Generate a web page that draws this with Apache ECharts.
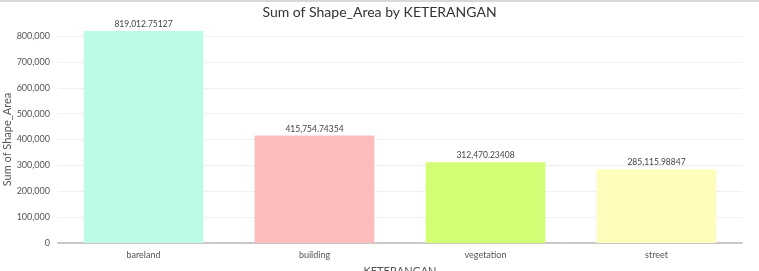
<!DOCTYPE html>
<html>
<head>
<meta charset="utf-8">
<script src="https://cdn.jsdelivr.net/npm/echarts@6/dist/echarts.min.js"></script>
<style>
html, body { margin: 0; padding: 0; background: #fff; }
#chart { width: 759px; height: 271px; border-top: 2px solid #d8d8d8; box-sizing: border-box; }
</style>
</head>
<body>
<div id="chart"></div>
<script>
const categories = ['bareland', 'building', 'vegetation', 'street'];
const values = [819012.75127, 415754.74354, 312470.23408, 285115.98847];
const labels = ['819,012.75127', '415,754.74354', '312,470.23408', '285,115.98847'];
const colors = ['#bcfce6', '#fdbdbd', '#d4fd76', '#fefdbc'];
const yTicks = [0, 100000, 200000, 300000, 400000, 500000, 600000, 700000, 800000];

let chart = echarts.init(document.getElementById('chart'));
let font = 'Lato, "Open Sans", sans-serif';

let option = {
	animation: false,
	title: {
		text: 'Sum of Shape_Area by KETERANGAN',
		left: 'center',
		top: -2,
		textStyle: { fontSize: 14, fontWeight: 'normal', color: '#333', fontFamily: font }
	},
	grid: { left: 58, right: 17, top: 34, bottom: 28, outerBoundsMode: 'none' },
	xAxis: {
		type: 'category',
		data: categories,
		name: 'KETERANGAN',
		nameLocation: 'middle',
		nameGap: 23,
		nameMoveOverlap: false,
		nameTextStyle: { fontSize: 11, color: '#555', fontFamily: font },
		axisLine: { lineStyle: { color: '#c8c8c8', width: 2 } },
		axisTick: { alignWithLabel: true, length: 3, lineStyle: { color: '#c8c8c8' } },
		axisLabel: { fontSize: 9, color: '#555', margin: 8, fontFamily: font }
	},
	yAxis: {
		type: 'value',
		min: yTicks[0],
		max: yTicks[yTicks.length - 1],
		interval: 100000,
		name: 'Sum of Shape_Area',
		nameLocation: 'middle',
		nameGap: 45,
		nameMoveOverlap: false,
		nameTextStyle: { fontSize: 11, color: '#555', fontFamily: font },
		axisLine: { show: false },
		axisTick: { show: false },
		splitLine: { lineStyle: { color: '#f0f0f0', width: 1 } },
		axisLabel: {
			fontSize: 9, color: '#555', margin: 8, fontFamily: font,
			formatter: v => v.toLocaleString('en-US')
		}
	},
	series: [{
		type: 'bar',
		clip: false,
		barCategoryGap: '30%',
		data: values.map((v, i) => ({ value: v, itemStyle: { color: colors[i] } })),
		label: {
			show: true,
			position: 'top',
			distance: 2,
			fontSize: 8.5,
			color: '#444',
			fontFamily: font,
			formatter: p => labels[p.dataIndex]
		}
	}]
};
chart.setOption(option);
</script>
</body>
</html>
